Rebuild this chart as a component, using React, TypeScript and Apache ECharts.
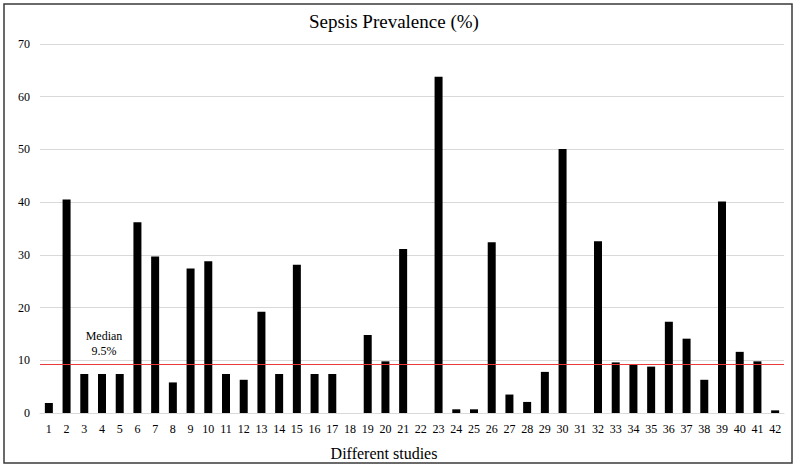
import React, { useEffect, useRef } from "react";
import * as echarts from "echarts";

const categories = Array.from({ length: 42 }, (_, i) => String(i + 1));
const prevalence = [
  1.9, 40.5, 7.4, 7.4, 7.4, 36.2, 29.7, 5.8, 27.4, 28.8,
  7.4, 6.3, 19.2, 7.4, 28.1, 7.4, 7.4, 0, 14.8, 9.8,
  31.1, 0, 63.8, 0.7, 0.7, 32.4, 3.5, 2.1, 7.8, 50.1,
  0, 32.6, 9.6, 9.2, 8.8, 17.3, 14.1, 6.3, 40.1, 11.6,
  9.8, 0.5,
];
const medianValue = 9.2;
const medianLabel = "Median\n9.5%";
const yTicks = [0, 10, 20, 30, 40, 50, 60, 70];

const FONT = "Liberation Serif, Times New Roman, DejaVu Serif, serif";

export default function App() {
  const ref = useRef<HTMLDivElement>(null);
  useEffect(() => {
    if (!ref.current) return;
    const chart = echarts.init(ref.current, null, { renderer: "svg" });
    chart.setOption({
      animation: false,
      backgroundColor: "#ffffff",
      textStyle: { fontFamily: FONT },
      title: {
        text: "Sepsis Prevalence (%)",
        left: 304,
        top: 7,
        textStyle: { fontFamily: FONT, fontSize: 19, fontWeight: "normal", color: "#000" },
      },
      graphic: [
        {
          type: "rect",
          shape: { x: 4, y: 4, width: 788, height: 459 },
          style: { fill: "none", stroke: "#3a3a3a", lineWidth: 1.5 },
          silent: true,
        },
      ],
      grid: { left: 40, right: 15, top: 44, bottom: 56, containLabel: false },
      xAxis: {
        type: "category",
        data: categories,
        name: "Different studies",
        nameLocation: "middle",
        nameGap: 32,
        nameTextStyle: { fontFamily: FONT, fontSize: 16, color: "#000", padding: [0, 56, 0, 0] },
        axisLine: { show: true, lineStyle: { color: "#d9d9d9", width: 1 } },
        axisTick: { show: false },
        axisLabel: { fontFamily: FONT, fontSize: 12, color: "#000", margin: 10, interval: 0 },
      },
      yAxis: {
        type: "value",
        min: 0,
        max: 70,
        interval: 10,
        axisLine: { show: false },
        axisTick: { show: false },
        axisLabel: {
          fontFamily: FONT,
          fontSize: 12,
          color: "#000",
          margin: 10,
          formatter: (v: number) => (yTicks.includes(v) ? String(v) : ""),
        },
        splitLine: { lineStyle: { color: "#d9d9d9", width: 1 } },
      },
      series: [
        {
          type: "bar",
          data: prevalence,
          barWidth: 8,
          itemStyle: { color: "#000000" },
          markLine: {
            silent: true,
            symbol: "none",
            lineStyle: { color: "#e8393b", width: 1.2, type: "solid" },
            label: { show: false },
            data: [{ yAxis: medianValue }],
          },
          markPoint: {
            silent: true,
            symbol: "rect",
            symbolSize: 1,
            itemStyle: { color: "rgba(0,0,0,0)" },
            label: {
              show: true,
              formatter: medianLabel,
              fontFamily: FONT,
              fontSize: 12,
              color: "#000",
              lineHeight: 15,
              position: "top",
              distance: 3,
              offset: [2, 0],
            },
            data: [{ coord: ["4", medianValue + 0.4] }],
          },
        },
      ],
    });
    return () => chart.dispose();
  }, []);
  return (
    <div
      ref={ref}
      style={{ position: "fixed", left: 0, top: 0, width: 799, height: 469 }}
    />
  );
}
